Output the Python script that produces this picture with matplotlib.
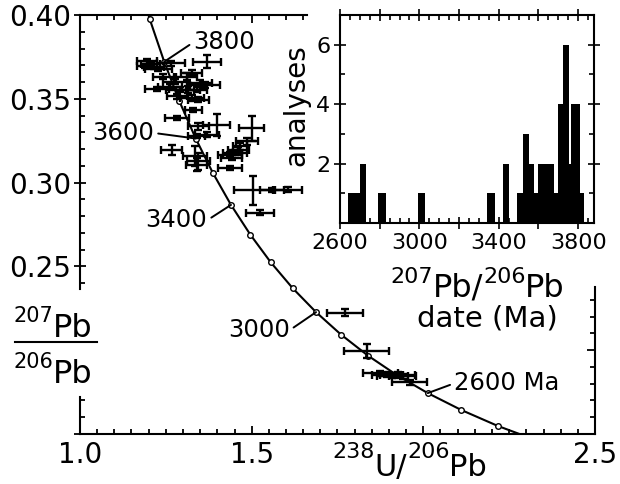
import matplotlib
matplotlib.use('Agg')
import matplotlib.pyplot as plt
from matplotlib.lines import Line2D
from matplotlib.markers import TICKLEFT
from matplotlib.ticker import MultipleLocator

plt.rcParams['font.family'] = ['DejaVu Sans']

# concordia points every 100 Ma (238U/206Pb, 207Pb/206Pb)
conc_age = [2300, 2400, 2500, 2600, 2700, 2800, 2900, 3000, 3100,
            3200, 3300, 3400, 3500, 3600, 3700, 3800, 3900, 4000]
conc_x = [2.3325, 2.2170, 2.1108, 2.0129, 1.9224, 1.8384, 1.7603, 1.6875, 1.6194,
          1.5557, 1.4959, 1.4398, 1.3869, 1.3370, 1.2898, 1.2453, 1.2030, 1.1630]
conc_y = [0.1460, 0.1548, 0.1643, 0.1744, 0.1852, 0.1968, 0.2093, 0.2227, 0.2370,
          0.2524, 0.2690, 0.2867, 0.3058, 0.3263, 0.3484, 0.3721, 0.3976, 0.4250]

# zircon analyses with 1-sigma errors
u_pb = [1.195, 1.205, 1.190, 1.215, 1.228, 1.265, 1.371,
        1.243, 1.277, 1.311, 1.325, 1.291, 1.315, 1.340, 1.282, 1.325, 1.345,
        1.262, 1.350, 1.364, 1.223, 1.330, 1.282, 1.345, 1.398, 1.369, 1.340,
        1.500, 1.486, 1.437, 1.451, 1.461, 1.442, 1.466, 1.267, 1.335, 1.345,
        1.340, 1.437, 1.505, 1.560, 1.607, 1.524,
        1.772, 1.835, 1.875, 1.895, 1.910, 1.925, 1.940, 1.960]
u_pb_err = [0.030, 0.028, 0.025, 0.030, 0.040, 0.040, 0.041,
            0.030, 0.035, 0.030, 0.030, 0.040, 0.035, 0.030, 0.030, 0.035, 0.030,
            0.035, 0.035, 0.045, 0.035, 0.025, 0.035, 0.030, 0.039, 0.035, 0.025,
            0.036, 0.032, 0.035, 0.035, 0.030, 0.030, 0.020, 0.031, 0.034, 0.034,
            0.030, 0.036, 0.056, 0.035, 0.040, 0.040,
            0.052, 0.065, 0.050, 0.045, 0.045, 0.050, 0.040, 0.050]
pb_pb = [0.3725, 0.3710, 0.3695, 0.3690, 0.3675, 0.3712, 0.3722,
         0.3633, 0.3603, 0.3633, 0.3655, 0.3554, 0.3554, 0.3554, 0.3514, 0.3504, 0.3494,
         0.3573, 0.3593, 0.3583, 0.3558, 0.3435, 0.3388, 0.3335, 0.3345, 0.3286, 0.3276,
         0.3325, 0.3246, 0.3167, 0.3177, 0.3196, 0.3147, 0.3216, 0.3196, 0.3157, 0.3127,
         0.3107, 0.3087, 0.2953, 0.2958, 0.2958, 0.2820,
         0.2224, 0.1996, 0.1862, 0.1855, 0.1848, 0.1852, 0.1845, 0.1810]
pb_pb_err = [0.0015, 0.0012, 0.0012, 0.0015, 0.0012, 0.0015, 0.0040,
             0.0012, 0.0015, 0.0020, 0.0015, 0.0015, 0.0020, 0.0015, 0.0015, 0.0020, 0.0015,
             0.0015, 0.0020, 0.0020, 0.0012, 0.0012, 0.0012, 0.0020, 0.0065, 0.0015, 0.0012,
             0.0074, 0.0020, 0.0015, 0.0015, 0.0015, 0.0015, 0.0020, 0.0030, 0.0060, 0.0050,
             0.0040, 0.0012, 0.0084, 0.0012, 0.0015, 0.0015,
             0.0020, 0.0040, 0.0015, 0.0015, 0.0015, 0.0015, 0.0015, 0.0015]

# labelled concordia ages
label_ages = [3800, 3600, 3400, 3000, 2600]
label_texts = ['3800', '3600', '3400', '3000', '2600 Ma']

# histogram of 207Pb/206Pb dates
hist_edges = [2640, 2670, 2700, 2730, 2790, 2830, 2995, 3030, 3340, 3380, 3423, 3453,
              3490, 3524, 3554, 3578, 3596, 3680, 3697, 3724, 3752, 3766, 3808, 3832]
hist_counts = [1, 1, 2, 0, 1, 0, 1, 0, 1, 0, 2, 0,
               1, 3, 2, 1, 2, 1, 4, 6, 2, 4, 1]

main_xticks = [1.0, 1.5, 2.0, 2.5]
main_xlabels = ['1.0', '1.5', '', '2.5']
main_yticks = [0.15, 0.20, 0.25, 0.30, 0.35, 0.40]
main_ylabels = ['', '', '0.25', '0.30', '0.35', '0.40']
hist_xticks = [2600, 2800, 3000, 3200, 3400, 3600, 3800]
hist_xlabels = ['2600', '', '3000', '', '3400', '', '3800']
hist_yticks = [2, 4, 6]

W, H = 620, 484
fig = plt.figure(figsize=(W / 100, H / 100), dpi=100)
renderer = fig.canvas.get_renderer()


def sup_label(parts, x0, base):
    # parts: (text, fontsize, raise in px); x0, base in pixels from top-left
    x = x0
    for s, size, rise in parts:
        t = fig.text(x / W, 1 - (base - rise) / H, s, fontsize=size, ha='left', va='baseline')
        x = t.get_window_extent(renderer).x1


# main Tera-Wasserburg plot
ax = fig.add_axes([80 / W, 50 / H, 515 / W, 419 / H])
ax.set_xlim(1.0, 2.5)
ax.set_ylim(0.15, 0.40)

ax.plot(conc_x, conc_y, color='k', lw=1.5, zorder=2)
ax.plot(conc_x, conc_y, 'o', mfc='white', mec='k', ms=4, mew=1, zorder=3)
ax.errorbar(u_pb, pb_pb, xerr=u_pb_err, yerr=pb_pb_err, fmt='none', ecolor='k',
            elinewidth=1.7, capsize=3, capthick=1.7, zorder=4)

offsets = {3800: (21, 14), 3600: (-30, 4), 3400: (-17, -11), 3000: (-19, -13), 2600: (19, 7)}
for age, txt in zip(label_ages, label_texts):
    i = conc_age.index(age)
    dx, dy = offsets[age]
    ha = 'left' if dx > 0 else 'right'
    ax.annotate(txt, xy=(conc_x[i], conc_y[i]), xytext=(dx, dy), textcoords='offset points',
                ha=ha, va='center', fontsize=17.5,
                arrowprops=dict(arrowstyle='-', lw=1.4, color='k', shrinkA=1, shrinkB=0,
                                relpos=(0 if dx > 0 else 1, 0.5)))

ax.set_xticks(main_xticks, main_xlabels)
ax.set_yticks(main_yticks, main_ylabels)
ax.xaxis.set_minor_locator(MultipleLocator(0.05))
ax.yaxis.set_minor_locator(MultipleLocator(0.01))
ax.tick_params(axis='both', which='both', top=True, right=True, labelsize=20, width=1.3)
ax.tick_params(axis='x', which='major', direction='in', length=6, pad=5)
ax.tick_params(axis='x', which='minor', direction='in', length=3.5)
ax.tick_params(axis='y', which='major', direction='inout', length=9, pad=2)
ax.tick_params(axis='y', which='minor', direction='in', length=3.5)
for s in ax.spines.values():
    s.set_linewidth(1.5)

top_end = 1.66
right_end = 0.2375
left_gap = (0.172, 0.2363)
ax.spines['top'].set_bounds(1.0, top_end)
ax.spines['right'].set_bounds(0.15, right_end)
ax.spines['left'].set_bounds(left_gap[1], 0.40)
ax.plot([1.0, 1.0], [0.15, left_gap[0]], color='k', lw=1.5, clip_on=False, zorder=5)

# y label as a stacked ratio
sup_label([('207', 15, 15), ('Pb', 23, 0)], 13, 337)
fig.add_artist(Line2D([15 / W, 97 / W], [1 - 342 / H, 1 - 342 / H], color='k', lw=1.5))
sup_label([('206', 15, 15), ('Pb', 23, 0)], 13, 383)
# x label
sup_label([('238', 16, 18), ('U/', 22, 0), ('206', 16, 18), ('Pb', 22, 0)], 332, 476)

# inset histogram
ax2 = fig.add_axes([340 / W, 261 / H, 254 / W, 208 / H])
ax2.stairs(hist_counts, hist_edges, fill=True, color='k')
ax2.set_xlim(2600, 3880)
ax2.set_ylim(0, 7)
ax2.set_xticks(hist_xticks, hist_xlabels)
ax2.set_yticks(hist_yticks)
ax2.xaxis.set_minor_locator(MultipleLocator(50))
ax2.yaxis.set_minor_locator(MultipleLocator(1))
ax2.tick_params(axis='both', which='both', top=True, right=True, labelsize=16, width=1.2)
ax2.tick_params(axis='both', which='major', direction='inout', length=8, pad=3)
ax2.tick_params(axis='both', which='minor', direction='in', length=3.5)
for s in ax2.spines.values():
    s.set_linewidth(1.5)
fig.text(296 / W, 1 - 105 / H, 'analyses', fontsize=20, rotation=90, ha='center', va='center')
sup_label([('207', 16, 14), ('Pb/', 23, 0), ('206', 16, 14), ('Pb', 23, 0)], 390, 297)
sup_label([('date (Ma)', 21, 0)], 417, 327)

# hide tick marks where the main frame is broken
fig.canvas.draw()
for t in ax.xaxis.get_major_ticks() + ax.xaxis.get_minor_ticks():
    if t.get_loc() > top_end:
        t.tick2line.set_visible(False)
for t in ax.yaxis.get_major_ticks() + ax.yaxis.get_minor_ticks():
    loc = t.get_loc()
    if loc > right_end:
        t.tick2line.set_visible(False)
    if left_gap[0] < loc < left_gap[1]:
        t.tick1line.set_visible(False)
for t in ax.yaxis.get_major_ticks():
    # right-hand major ticks point inwards only
    t.tick2line.set_marker(TICKLEFT)
    t.tick2line.set_markersize(6)

fig.savefig('out.png', dpi=100)
